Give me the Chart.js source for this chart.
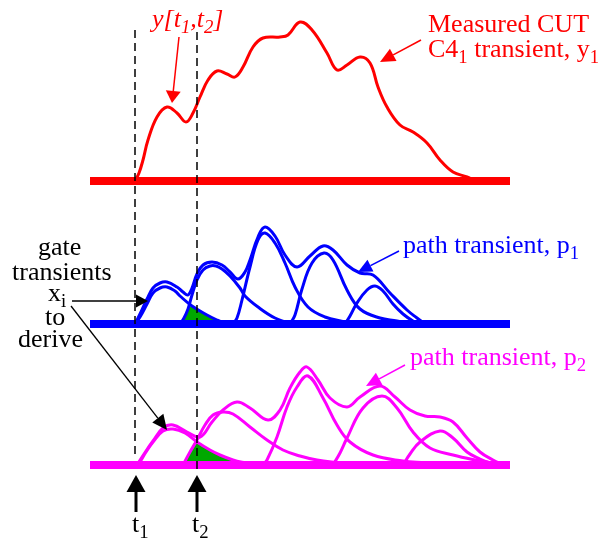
<!DOCTYPE html>
<html>
<head>
<meta charset="utf-8">
<script src="https://cdn.jsdelivr.net/npm/chart.js@4.4.0/dist/chart.umd.min.js"></script>
<style>
  body { margin: 0; background: #fff; }
  canvas { display: block; }
</style>
</head>
<body>
<canvas id="gates" width="605" height="541"></canvas>
<script>
// time in ns, amplitudes in mV
const T1 = 4.5, T2 = 10.7;
const baseT = [0, 42];
const baseV = [0, 0];

// measured CUT transient y1
const cutT = [4.5, 4.9, 5.3, 5.8, 6.7, 7.7, 8.7, 9.6, 10.3, 11.0, 11.8, 12.7, 13.7, 14.5, 15.3, 16.3, 17.3, 19.0, 19.8, 21.0, 22.2, 23.7, 24.7, 25.7, 27.0, 28.0, 28.8, 29.7, 31.0, 32.3, 33.7, 35.0, 36.3, 37.7, 38.5];
const cutV = [0, 4, 10.5, 20.5, 32, 37, 34, 29.5, 34, 42, 50.5, 55, 53.5, 52, 57, 67, 71.5, 72, 73, 79.5, 75.5, 64, 55.5, 58, 62, 59, 47, 37, 28, 24.5, 19, 10.5, 4.5, 2, 0];

// path transient p1 and its gate transients
const p1T = [4.5, 5.0, 5.7, 6.3, 7.0, 7.7, 8.7, 9.3, 9.8, 10.2, 10.7, 11.3, 12.2, 13.2, 14.0, 14.8, 15.5, 16.0, 16.8, 17.5, 18.5, 19.5, 20.7, 22.0, 23.3, 24.3, 25.7, 27.0, 28.3, 30.0, 31.7, 32.7, 33.5];
const p1V = [0, 5, 12.5, 18, 20.5, 21, 18.5, 16, 14.5, 18, 25, 29.5, 31, 29.5, 26, 22.5, 26, 32, 43.5, 48.5, 44, 34.5, 28.5, 34, 39, 37, 29.5, 25.5, 24.5, 15.5, 7, 3, 0];
const g1aT = [4.5, 5.0, 5.7, 6.3, 7.0, 7.7, 8.5, 9.0, 10.2, 11.7, 12.7, 13.5, 14.2];
const g1aV = [0, 3.5, 10, 15.5, 18, 18.5, 16.5, 14, 9, 4.5, 2, 0.5, 0];
const g1bT = [9.0, 9.4, 9.8, 10.2, 10.7, 11.3, 12.0, 12.6, 13.2, 14.0, 15.0, 15.5, 16.8, 18.5, 20.0, 21.0];
const g1bV = [0, 3, 7.5, 14.5, 22, 27, 29, 29, 27.5, 24, 18, 14, 8.5, 3, 0.5, 0];
const g1cT = [14.3, 14.7, 15.2, 16.0, 16.8, 17.5, 18.5, 19.5, 20.5, 21.8, 23.5, 25.5, 26.2];
const g1cV = [0, 3, 12, 28.5, 42, 45.5, 40.5, 30.5, 18.5, 8.5, 3.5, 1, 0];
const g1dT = [20.0, 20.5, 21.2, 22.2, 23.4, 24.3, 25.7, 27.0, 29.0, 30.7, 32.0];
const g1dV = [0, 4.5, 17.5, 30.5, 35.5, 32, 17, 7.5, 3, 1.5, 0];
const g1eT = [25.5, 26.0, 26.7, 27.7, 28.5, 29.3, 30.3, 31.3, 32.3, 33.0];
const g1eV = [0, 4, 10.5, 17, 19, 16.5, 10, 5, 1.5, 0];
const ov1T = [9.0, 9.4, 9.8, 10.2, 10.7, 11.7, 12.7, 13.5];
const ov1V = [0, 3, 7.5, 9, 7.8, 4.5, 2, 0.5];

// path transient p2 and its gate transients
const p2T = [4.7, 5.6, 6.3, 7.3, 8.3, 9.7, 11.0, 12.2, 13.3, 14.7, 16.0, 17.8, 19.0, 20.0, 21.0, 21.7, 22.8, 24.0, 25.7, 27.0, 29.0, 30.5, 32.0, 33.5, 35.0, 36.3, 37.7, 39.0, 40.3, 41.3];
const p2V = [0, 7, 12, 18.5, 20, 16.5, 14, 21.5, 27.5, 31.5, 28.5, 22.5, 27.5, 38.5, 46.5, 49, 42.5, 33.5, 29, 34, 39.5, 34, 27.5, 24.5, 24, 21.5, 13.5, 6.5, 2.5, 0];
const g2aT = [4.7, 5.0, 5.6, 6.3, 7.3, 8.3, 9.5, 10.7, 12.0, 13.0, 14.3, 15.5, 16.5];
const g2aV = [0, 1.5, 6.5, 11.5, 17, 18, 16, 11.5, 7.5, 5, 2.5, 1, 0];
const g2bT = [9.3, 10.0, 10.7, 11.5, 12.3, 13.3, 14.3, 16.0, 17.7, 19.3, 21.0, 22.7, 25.0, 26.5];
const g2bV = [0, 6.5, 12.5, 20, 25, 26.5, 25.5, 19, 12.5, 7.5, 4.5, 2.5, 1, 0];
const g2cT = [17.3, 17.7, 18.7, 19.7, 20.7, 21.8, 23.3, 24.7, 26.0, 28.3, 31.3, 33.5, 35.5];
const g2cV = [0, 2.5, 14, 29, 39, 44.5, 33.5, 20, 11.5, 5, 2, 1, 0];
const g2dT = [24.3, 25.0, 25.7, 27.3, 29.2, 30.7, 32.3, 34.0, 36.3, 38.5, 39.7, 41.0];
const g2dV = [0, 6, 13.5, 28.5, 34.5, 28.5, 16.5, 8.5, 5, 2.5, 1.5, 0];
const g2eT = [31.3, 32.0, 33.0, 35.0, 36.3, 37.7, 39.0, 40.3, 40.7];
const g2eV = [0, 5.5, 11.5, 17, 13.5, 6.5, 3, 0.5, 0];
const ov2T = [9.3, 10.0, 10.6, 12.0, 13.0, 14.3, 15.0, 15.7];
const ov2V = [0, 6.5, 11.5, 7.5, 5, 2.5, 1.5, 0];

// layout: 10 px per ns from x = 90, 2 px per mV above each baseline
const W = 605, H = 541;
const X0 = 90, X_PX = 10, Y_PX = 2;
const RED_BASE = 181, BLUE_BASE = 324, MAG_BASE = 465;
const RED = '#ff0000', BLUE = '#0000ff', MAG = '#ff00ff', GREEN = '#00a800';
const SERIF = '"Liberation Serif", "Times New Roman", serif';

function yAxis(base) {
  return { type: 'linear', display: false, min: -(H - base) / Y_PX, max: base / Y_PX };
}

function pts(ts, vs) {
  return ts.map((t, i) => ({ x: t, y: vs[i] }));
}

function curve(ts, vs, color, axis, width) {
  return {
    data: pts(ts, vs),
    yAxisID: axis,
    borderColor: color,
    borderWidth: width || 3,
    borderJoinStyle: 'round',
    pointRadius: 0,
    fill: false,
    tension: 0.4
  };
}

function area(ts, vs, axis) {
  return {
    data: pts(ts, vs),
    yAxisID: axis,
    borderWidth: 0,
    borderColor: GREEN,
    backgroundColor: GREEN,
    pointRadius: 0,
    fill: 'origin',
    tension: 0.4
  };
}

// text with subscripts: parts are [string, isSub]
function rich(ctx, x, y, parts, size, color, italic) {
  let cx = x;
  ctx.fillStyle = color;
  ctx.textBaseline = 'alphabetic';
  ctx.textAlign = 'left';
  parts.forEach(([s, sub]) => {
    const sz = sub ? size * 0.72 : size;
    ctx.font = (italic ? 'italic ' : '') + sz + 'px ' + SERIF;
    ctx.fillText(s, cx, sub ? y + size * 0.24 : y);
    cx += ctx.measureText(s).width;
  });
}

function arrow(ctx, x1, y1, x2, y2, color, lw, len, wid) {
  const a = Math.atan2(y2 - y1, x2 - x1);
  const bx = x2 - len * Math.cos(a), by = y2 - len * Math.sin(a);
  ctx.strokeStyle = color;
  ctx.fillStyle = color;
  ctx.lineWidth = lw;
  ctx.setLineDash([]);
  ctx.beginPath();
  ctx.moveTo(x1, y1);
  ctx.lineTo(bx, by);
  ctx.stroke();
  ctx.beginPath();
  ctx.moveTo(x2, y2);
  ctx.lineTo(bx + wid / 2 * Math.sin(a), by - wid / 2 * Math.cos(a));
  ctx.lineTo(bx - wid / 2 * Math.sin(a), by + wid / 2 * Math.cos(a));
  ctx.closePath();
  ctx.fill();
}

const notes = {
  id: 'notes',
  afterDatasetsDraw(chart) {
    const ctx = chart.ctx;
    const x = chart.scales.x;
    const xa = x.getPixelForValue(T1), xb = x.getPixelForValue(T2);
    ctx.save();

    // sampling window t1..t2
    ctx.strokeStyle = '#000';
    ctx.lineWidth = 1.5;
    ctx.setLineDash([8, 5]);
    ctx.beginPath();
    ctx.moveTo(xa, 30); ctx.lineTo(xa, 458);
    ctx.moveTo(xb, 32); ctx.lineTo(xb, 473);
    ctx.stroke();

    arrow(ctx, xa + 1, 512, xa + 1, 475, '#000', 3, 17, 19);
    arrow(ctx, xb, 512, xb, 475, '#000', 3, 17, 19);
    rich(ctx, xa - 3, 532, [['t'], ['1', true]], 26, '#000');
    rich(ctx, xb - 5, 532, [['t'], ['2', true]], 26, '#000');

    // red labels
    rich(ctx, 152, 27, [['y[t'], ['1', true], [',t'], ['2', true], [']']], 26, RED, true);
    arrow(ctx, 179, 37, 172, 103, RED, 1.5, 12, 15);
    rich(ctx, 428, 32, [['Measured CUT']], 26, RED);
    rich(ctx, 428, 57, [['C4'], ['1', true], [' transient, y'], ['1', true]], 26, RED);
    arrow(ctx, 421, 40, 380, 62, RED, 1.5, 15, 14);

    // blue and magenta labels
    rich(ctx, 403, 253, [['path transient, p'], ['1', true]], 26, BLUE);
    arrow(ctx, 399, 251, 358, 272, BLUE, 1.5, 14, 13);
    rich(ctx, 410, 365, [['path transient, p'], ['2', true]], 26, MAG);
    arrow(ctx, 405, 365, 366, 386, MAG, 1.5, 15, 14);

    // gate transient callout
    rich(ctx, 38, 255, [['gate']], 26, '#000');
    rich(ctx, 12, 280, [['transients']], 26, '#000');
    rich(ctx, 48, 301, [['x'], ['i', true]], 26, '#000');
    rich(ctx, 45, 325, [['to']], 26, '#000');
    rich(ctx, 18, 347, [['derive']], 26, '#000');
    arrow(ctx, 72, 301, 148, 301, '#000', 1.3, 12, 13);
    arrow(ctx, 71, 306, 167, 430, '#000', 1.3, 15, 14);

    ctx.restore();
  }
};

new Chart(document.getElementById('gates'), {
  type: 'line',
  data: {
    datasets: [
      curve(baseT, baseV, RED, 'yR', 8),
      curve(baseT, baseV, BLUE, 'yB', 8),
      curve(baseT, baseV, MAG, 'yM', 8),
      curve(cutT, cutV, RED, 'yR'),
      curve(p1T, p1V, BLUE, 'yB'),
      curve(g1aT, g1aV, BLUE, 'yB'),
      curve(g1bT, g1bV, BLUE, 'yB'),
      curve(g1cT, g1cV, BLUE, 'yB'),
      curve(g1dT, g1dV, BLUE, 'yB'),
      curve(g1eT, g1eV, BLUE, 'yB'),
      curve(p2T, p2V, MAG, 'yM'),
      curve(g2aT, g2aV, MAG, 'yM'),
      curve(g2bT, g2bV, MAG, 'yM'),
      curve(g2cT, g2cV, MAG, 'yM'),
      curve(g2dT, g2dV, MAG, 'yM'),
      curve(g2eT, g2eV, MAG, 'yM'),
      area(ov1T, ov1V, 'yB'),
      area(ov2T, ov2V, 'yM')
    ]
  },
  options: {
    responsive: false,
    animation: false,
    devicePixelRatio: 1,
    events: [],
    layout: { padding: 0 },
    plugins: { legend: { display: false }, tooltip: { enabled: false } },
    scales: {
      x: { type: 'linear', display: false, min: -X0 / X_PX, max: (W - X0) / X_PX },
      yR: yAxis(RED_BASE),
      yB: yAxis(BLUE_BASE),
      yM: yAxis(MAG_BASE)
    }
  },
  plugins: [notes]
});
</script>
</body>
</html>
